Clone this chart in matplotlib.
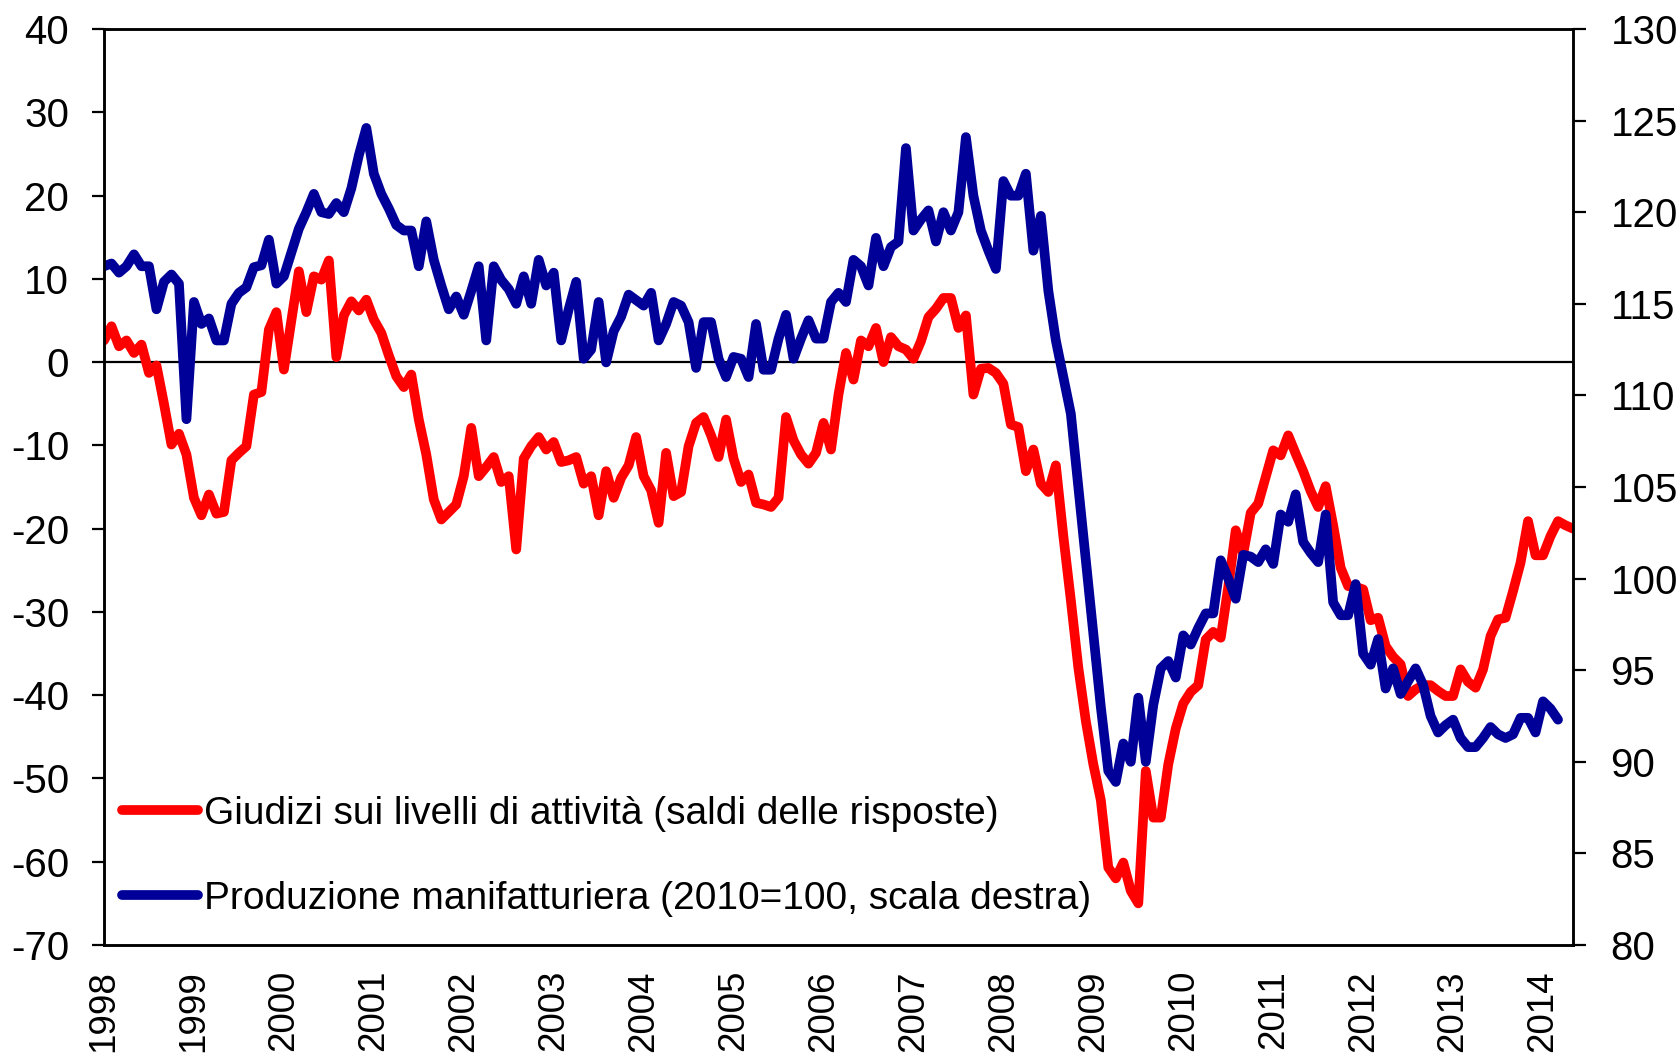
import numpy as np
import matplotlib
matplotlib.use("Agg")
import matplotlib.pyplot as plt

plt.rcParams['font.family'] = ['Liberation Sans', 'DejaVu Sans']
plt.rcParams['axes.unicode_minus'] = False

# Giudizi sui livelli di attivita' (saldi), mensile gen 1998 - mag 2014
giudizi = [
    2.6, 4.3, 1.9, 2.6, 1.1, 2.1, -1.3, -0.4, -5.0, -9.9, -8.6, -11.1,            # 1998
    -16.3, -18.4, -15.9, -18.2, -18.0, -11.8, -10.9, -10.1, -3.9, -3.6, 3.9, 6.0,  # 1999
    -0.9, 5.0, 10.9, 6.0, 10.3, 9.9, 12.2, 0.6, 5.6, 7.3, 6.2, 7.5,                # 2000
    5.1, 3.5, 0.8, -1.7, -3.0, -1.5, -6.9, -11.1, -16.5, -18.9, -18.0, -17.1,      # 2001
    -13.7, -7.9, -13.7, -12.6, -11.4, -14.4, -13.7, -22.5, -11.6, -10.1, -9.0, -10.5,  # 2002
    -9.6, -12.0, -11.8, -11.4, -14.6, -13.7, -18.4, -13.1, -16.3, -13.9, -12.4, -9.0,  # 2003
    -13.7, -15.4, -19.3, -10.9, -16.1, -15.6, -10.1, -7.3, -6.6, -8.8, -11.4, -6.9,    # 2004
    -11.6, -14.4, -13.5, -16.9, -17.1, -17.4, -16.3, -6.6, -9.4, -11.1, -12.2, -10.9,  # 2005
    -7.3, -10.5, -3.9, 1.1, -2.1, 2.6, 1.9, 4.1, 0.0, 3.0, 1.9, 1.5,               # 2006
    0.4, 2.5, 5.4, 6.4, 7.7, 7.7, 4.1, 5.6, -3.9, -0.8, -0.7, -1.3,                # 2007
    -2.6, -7.5, -7.8, -13.1, -10.5, -14.6, -15.6, -12.4, -20.9, -28.6, -36.7, -43.1,   # 2008
    -48.3, -52.6, -60.7, -62.0, -60.1, -63.5, -65.0, -49.1, -54.7, -54.7, -48.3, -44.0,  # 2009
    -41.0, -39.6, -38.8, -33.3, -32.4, -33.1, -27.0, -20.2, -23.0, -18.1, -17.0, -13.8,  # 2010
    -10.6, -11.2, -8.8, -11.0, -13.1, -15.5, -17.4, -14.9, -19.6, -24.7, -26.9, -27.0,   # 2011
    -27.3, -31.0, -30.7, -34.1, -35.4, -36.3, -40.1, -39.3, -38.8, -38.8, -39.5, -40.1,  # 2012
    -40.1, -36.9, -38.4, -39.1, -36.9, -32.9, -30.9, -30.7, -27.5, -24.1, -19.1, -23.2,  # 2013
    -23.2, -20.9, -19.1, -19.6, -20.0,                                               # 2014
]

# Produzione manifatturiera (2010=100), mensile gen 1998 - mar 2014
produzione = [
    117.05, 117.2, 116.7, 117.05, 117.7, 117.05, 117.05, 114.7, 116.2, 116.6, 116.1, 108.7,  # 1998
    115.1, 113.9, 114.2, 113.0, 113.0, 115.0, 115.6, 115.9, 117.0, 117.1, 118.5, 116.1,      # 1999
    116.5, 117.8, 119.1, 120.0, 121.0, 120.0, 119.9, 120.5, 120.0, 121.3, 123.1, 124.6,      # 2000
    122.1, 121.0, 120.2, 119.3, 119.0, 119.0, 117.05, 119.5, 117.4, 116.0, 114.7, 115.4,     # 2001
    114.4, 115.7, 117.05, 113.0, 117.05, 116.3, 115.8, 115.0, 116.5, 115.0, 117.4, 116.0,    # 2002
    116.7, 113.0, 114.7, 116.2, 112.0, 112.5, 115.1, 111.8, 113.5, 114.3, 115.5, 115.2,      # 2003
    114.9, 115.6, 113.0, 113.9, 115.1, 114.9, 114.0, 111.5, 114.0, 114.0, 112.0, 111.0,      # 2004
    112.1, 112.0, 111.0, 113.9, 111.4, 111.4, 113.1, 114.4, 112.0, 113.1, 114.1, 113.1,      # 2005
    113.1, 115.1, 115.6, 115.1, 117.4, 117.05, 116.0, 118.6, 117.05, 118.1, 118.4, 123.5,    # 2006
    119.0, 119.6, 120.1, 118.4, 120.0, 119.0, 120.0, 124.1, 120.9, 119.0, 117.9, 116.9,      # 2007
    121.7, 120.9, 120.9, 122.1, 117.9, 119.8, 115.7, 113.0, 111.0, 109.0, 105.0, 101.0,      # 2008
    97.0, 93.0, 89.5, 88.9, 91.0, 90.0, 93.5, 90.0, 93.1, 95.1, 95.5, 94.6,                  # 2009
    96.9, 96.4, 97.3, 98.1, 98.1, 101.0, 100.0, 98.9, 101.3, 101.2, 100.9, 101.6,            # 2010
    100.8, 103.5, 103.1, 104.6, 102.0, 101.4, 100.9, 103.5, 98.7, 98.0, 98.0, 99.7,          # 2011
    95.9, 95.3, 96.7, 94.0, 95.1, 93.7, 94.4, 95.1, 94.2, 92.5, 91.6, 92.0,                  # 2012
    92.3, 91.3, 90.8, 90.8, 91.3, 91.9, 91.5, 91.3, 91.5, 92.4, 92.4, 91.6,                  # 2013
    93.3, 92.9, 92.3,                                                                        # 2014
]

anni = list(range(1998, 2015))
yticks_sx = list(range(-70, 41, 10))
yticks_dx = list(range(80, 131, 5))

lab_giudizi = "Giudizi sui livelli di attività (saldi delle risposte)"
lab_prod = "Produzione manifatturiera (2010=100, scala destra)"

x_g = 1998 + np.arange(len(giudizi)) / 12
x_p = 1998 + np.arange(len(produzione)) / 12

W, H = 1679, 1058
fig = plt.figure(figsize=(W / 100, H / 100), dpi=100)
ax = fig.add_axes([104 / W, 1 - 945 / H, (1573 - 104) / W, (945 - 29) / H])
ax2 = ax.twinx()

l1, = ax.plot(x_g, giudizi, color="#ff0000", lw=7,
              solid_joinstyle="round", solid_capstyle="round", label=lab_giudizi)
l2, = ax2.plot(x_p, produzione, color="#000099", lw=7,
               solid_joinstyle="round", solid_capstyle="round", label=lab_prod)
ax.axhline(0, color="black", lw=1.6, zorder=1)

ax.set_xlim(1998, x_g[-1])
ax.set_ylim(-70, 40)
ax2.set_ylim(80, 130)

ax.set_yticks(yticks_sx)
ax2.set_yticks(yticks_dx)
ax.set_xticks(anni)
ax.set_xticklabels([str(a) for a in anni], rotation=90, va="top", ha="center")

fs = 29
ax.tick_params(axis="y", direction="out", length=9, width=1.6, pad=16, labelsize=fs)
ax2.tick_params(axis="y", direction="out", length=9, width=1.6, pad=18, labelsize=fs)
ax.tick_params(axis="x", length=0, pad=18, labelsize=26.5)

for a in (ax, ax2):
    for s in a.spines.values():
        s.set_linewidth(1.8)
        s.set_color("black")

leg = ax2.legend(handles=[l1, l2], loc="upper left",
                 bbox_to_anchor=(122 / W, 1 - 796 / H), bbox_transform=fig.transFigure,
                 frameon=False, fontsize=28, handlelength=1.95, handletextpad=0.15,
                 labelspacing=1.25, borderpad=0, borderaxespad=0)

fig.savefig("out.png", dpi=100)
